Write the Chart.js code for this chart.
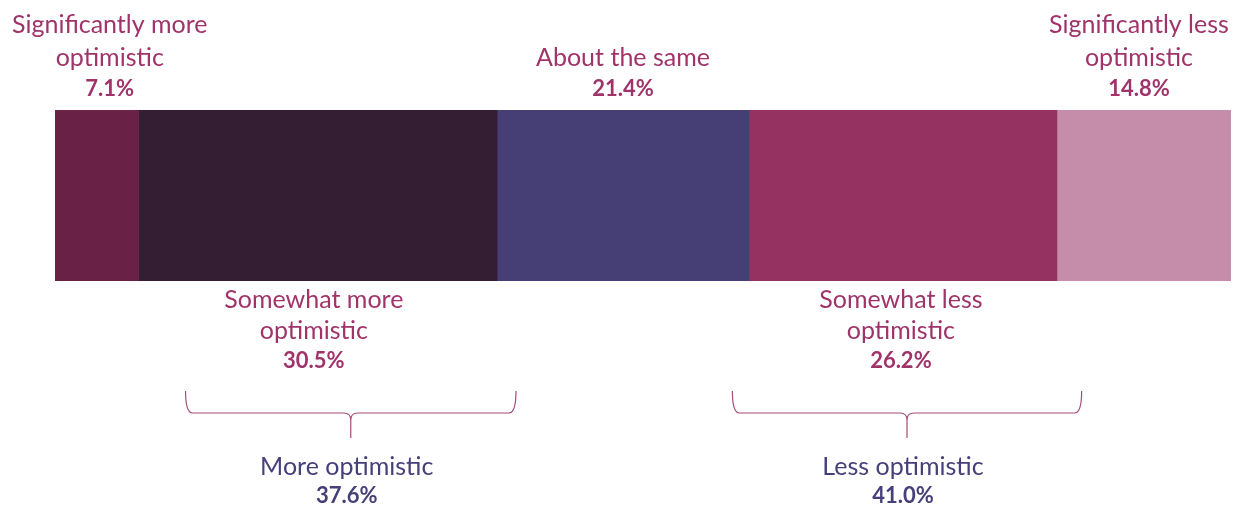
<!DOCTYPE html>
<html>
<head>
<meta charset="utf-8">
<script src="https://cdn.jsdelivr.net/npm/chart.js@4.4.0/dist/chart.umd.min.js"></script>
<style>
    html, body { margin: 0; padding: 0; background: #ffffff; }
    #wrap { width: 1239px; height: 505px; position: relative; }
</style>
</head>
<body>
<div id="wrap"><canvas id="optimismChart"></canvas></div>
<script>
// 回答分布（%）
const categories = [
    ['Significantly more', 'optimistic'],
    ['Somewhat more', 'optimistic'],
    ['About the same'],
    ['Somewhat less', 'optimistic'],
    ['Significantly less', 'optimistic']
];
const shares = [7.1, 30.5, 21.4, 26.2, 14.8];
const segmentColors = ['#6a2146', '#341e34', '#463f76', '#963262', '#c68dab'];
const labelSide = ['top', 'bottom', 'top', 'bottom', 'top'];

// 合并组（花括号）
const groupNames = ['More optimistic', 'Less optimistic'];
const groupMembers = [[0, 1], [3, 4]];
const groupSpans = [[11.1, 39.2], [57.6, 87.3]];

const LABEL_COLOR = '#a0346a';
const GROUP_COLOR = '#46407a';
const FONT = 'Lato, "Noto Sans", sans-serif';
const TEXT_FONT = '25px ' + FONT;
const PCT_FONT = 'bold 22px ' + FONT;
const labelShiftPx = [13, -4, 0, -2, -5];

const pct = v => v.toFixed(1) + '%';

// 绘制分段标签和花括号
const annotatePlugin = {
    id: 'annotate',
    afterDatasetsDraw(chart) {
        const { ctx, chartArea, scales } = chart;
        ctx.save();
        ctx.textAlign = 'center';
        ctx.textBaseline = 'middle';

        shares.forEach((v, i) => {
            const bar = chart.getDatasetMeta(i).data[0];
            const cx = (bar.x + bar.base) / 2 + labelShiftPx[i];
            const lines = categories[i];
            ctx.fillStyle = LABEL_COLOR;
            if (labelSide[i] === 'top') {
                const pctY = chartArea.top - 21;
                ctx.font = PCT_FONT;
                ctx.fillText(pct(v), cx, pctY);
                ctx.font = TEXT_FONT;
                for (let k = lines.length - 1, y = pctY - 31; k >= 0; k--, y -= 33) {
                    ctx.fillText(lines[k], cx, y);
                }
            } else {
                let y = chartArea.bottom + 19;
                ctx.font = TEXT_FONT;
                lines.forEach(t => { ctx.fillText(t, cx, y); y += 31; });
                ctx.font = PCT_FONT;
                ctx.fillText(pct(v), cx, y - 1);
            }
        });

        const x = scales.x;
        const yTop = chartArea.bottom + 110;
        const yMid = chartArea.bottom + 132;
        const yTip = chartArea.bottom + 157;
        const r = 7;
        groupNames.forEach((name, g) => {
            const x1 = x.getPixelForValue(groupSpans[g][0]);
            const x2 = x.getPixelForValue(groupSpans[g][1]);
            const xc = (x1 + x2) / 2;
            ctx.strokeStyle = '#a24c7a';
            ctx.lineWidth = 1.2;
            ctx.beginPath();
            ctx.moveTo(x1, yTop);
            ctx.quadraticCurveTo(x1, yMid, x1 + r, yMid);
            ctx.lineTo(xc - r, yMid);
            ctx.quadraticCurveTo(xc, yMid, xc, yMid + r);
            ctx.lineTo(xc, yTip);
            ctx.moveTo(x2, yTop);
            ctx.quadraticCurveTo(x2, yMid, x2 - r, yMid);
            ctx.lineTo(xc + r, yMid);
            ctx.quadraticCurveTo(xc, yMid, xc, yMid + r);
            ctx.stroke();

            const total = groupMembers[g].reduce((s, i) => s + shares[i], 0);
            ctx.fillStyle = GROUP_COLOR;
            ctx.font = TEXT_FONT;
            ctx.fillText(name, xc - 4, yTip + 29);
            ctx.font = PCT_FONT;
            ctx.fillText(pct(total), xc - 4, yTip + 58);
        });
        ctx.restore();
    }
};

new Chart(document.getElementById('optimismChart'), {
    type: 'bar',
    data: {
        labels: [''],
        datasets: shares.map((v, i) => ({
            label: categories[i].join(' '),
            data: [v],
            backgroundColor: segmentColors[i],
            borderWidth: 0,
            barPercentage: 1,
            categoryPercentage: 1
        }))
    },
    options: {
        indexAxis: 'y',
        responsive: true,
        maintainAspectRatio: false,
        animation: false,
        layout: { padding: { left: 55, right: 8, top: 110, bottom: 224 } },
        plugins: { legend: { display: false }, tooltip: { enabled: false } },
        scales: {
            x: { stacked: true, min: 0, max: 100, display: false },
            y: { stacked: true, display: false }
        }
    },
    plugins: [annotatePlugin]
});
</script>
</body>
</html>
